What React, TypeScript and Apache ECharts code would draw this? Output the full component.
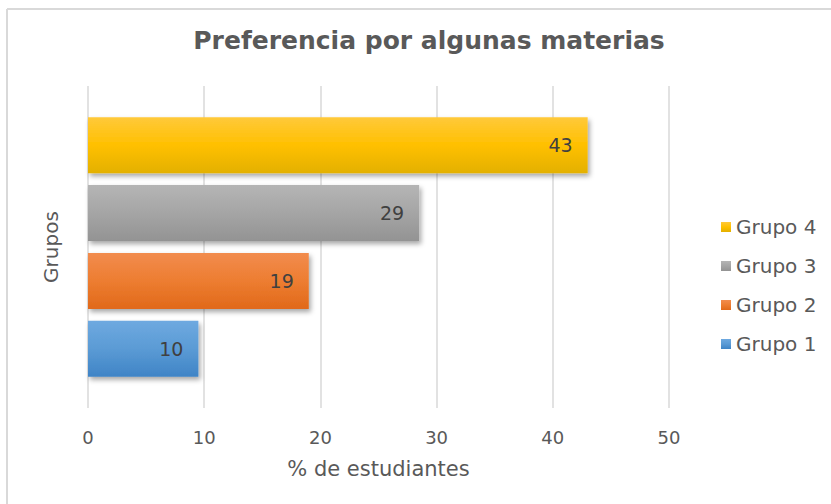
import React, { useEffect, useRef } from "react";
import * as echarts from "echarts";

const categories = ["Grupos"];
const seriesNames = ["Grupo 1", "Grupo 2", "Grupo 3", "Grupo 4"];
const seriesValues = [9.5, 19, 28.5, 43];
const legendOrder = ["Grupo 4", "Grupo 3", "Grupo 2", "Grupo 1"];
const xTicks = { min: 0, max: 50, interval: 10 };

const gradients: [string, string, string][] = [
  ["#6ea9e0", "#5b9bd5", "#3f84c6"],
  ["#f28c4e", "#ed7d31", "#e1691a"],
  ["#b5b5b5", "#a5a5a5", "#939393"],
  ["#ffc93a", "#ffc000", "#e3b000"],
];

export default function App() {
  const ref = useRef<HTMLDivElement>(null);
  useEffect(() => {
    if (!ref.current) return;
    const chart = echarts.init(ref.current, null, { renderer: "svg" });
    const font = "DejaVu Sans";
    const order = [3, 2, 1, 0];
    chart.setOption({
      animation: false,
      backgroundColor: "#ffffff",
      textStyle: { fontFamily: font },
      title: {
        text: "Preferencia por algunas materias",
        left: 424,
        textAlign: "center",
        top: 23,
        textStyle: { fontFamily: font, fontSize: 25, fontWeight: "bold", color: "#595959" },
      },
      legend: {
        data: legendOrder,
        orient: "vertical",
        left: 716,
        top: 212,
        itemWidth: 10,
        itemHeight: 10,
        itemGap: 19,
        icon: "rect",
        textStyle: { fontFamily: font, fontSize: 20, color: "#595959" },
      },
      grid: { left: 88, right: 162, top: 86, bottom: 96, containLabel: false },
      xAxis: {
        type: "value",
        min: xTicks.min,
        max: xTicks.max,
        interval: xTicks.interval,
        name: "% de estudiantes",
        nameLocation: "middle",
        nameGap: 50,
        nameTextStyle: { fontFamily: font, fontSize: 21, color: "#595959" },
        axisLine: { show: false },
        axisTick: { show: false },
        axisLabel: { fontFamily: font, fontSize: 18, color: "#595959", margin: 20 },
        splitLine: { lineStyle: { color: "#d9d9d9", width: 1.5 } },
      },
      yAxis: {
        type: "category",
        data: categories,
        name: "Grupos",
        nameLocation: "middle",
        nameGap: 27,
        nameRotate: 90,
        nameTextStyle: { fontFamily: font, fontSize: 20, color: "#595959" },
        axisLine: { show: false },
        axisTick: { show: false },
        axisLabel: { show: false },
      },
      series: order.map((i) => ({
        name: seriesNames[i],
        type: "bar",
        data: [seriesValues[i]],
        barWidth: 56,
        barGap: "21%",
        itemStyle: {
          color: new echarts.graphic.LinearGradient(0, 0, 0, 1, [
            { offset: 0, color: gradients[i][0] },
            { offset: 0.5, color: gradients[i][1] },
            { offset: 1, color: gradients[i][2] },
          ]),
          shadowColor: "rgba(0,0,0,0.35)",
          shadowBlur: 5,
          shadowOffsetX: 2,
          shadowOffsetY: 3,
        },
        label: {
          show: true,
          position: "insideRight",
          distance: 15,
          fontFamily: font,
          fontSize: 19,
          color: "#404040",
          formatter: (p: any) => String(Math.round(p.value)),
        },
      })),
      graphic: [
        { type: "line", shape: { x1: 7, y1: 9, x2: 831, y2: 9 }, style: { stroke: "#d9d9d9", lineWidth: 2 } },
        { type: "line", shape: { x1: 7, y1: 9, x2: 7, y2: 504 }, style: { stroke: "#d9d9d9", lineWidth: 2 } },
      ],
    });
    return () => chart.dispose();
  }, []);
  return (
    <div
      ref={ref}
      style={{ position: "absolute", left: 0, top: 0, width: 831, height: 504 }}
    />
  );
}
